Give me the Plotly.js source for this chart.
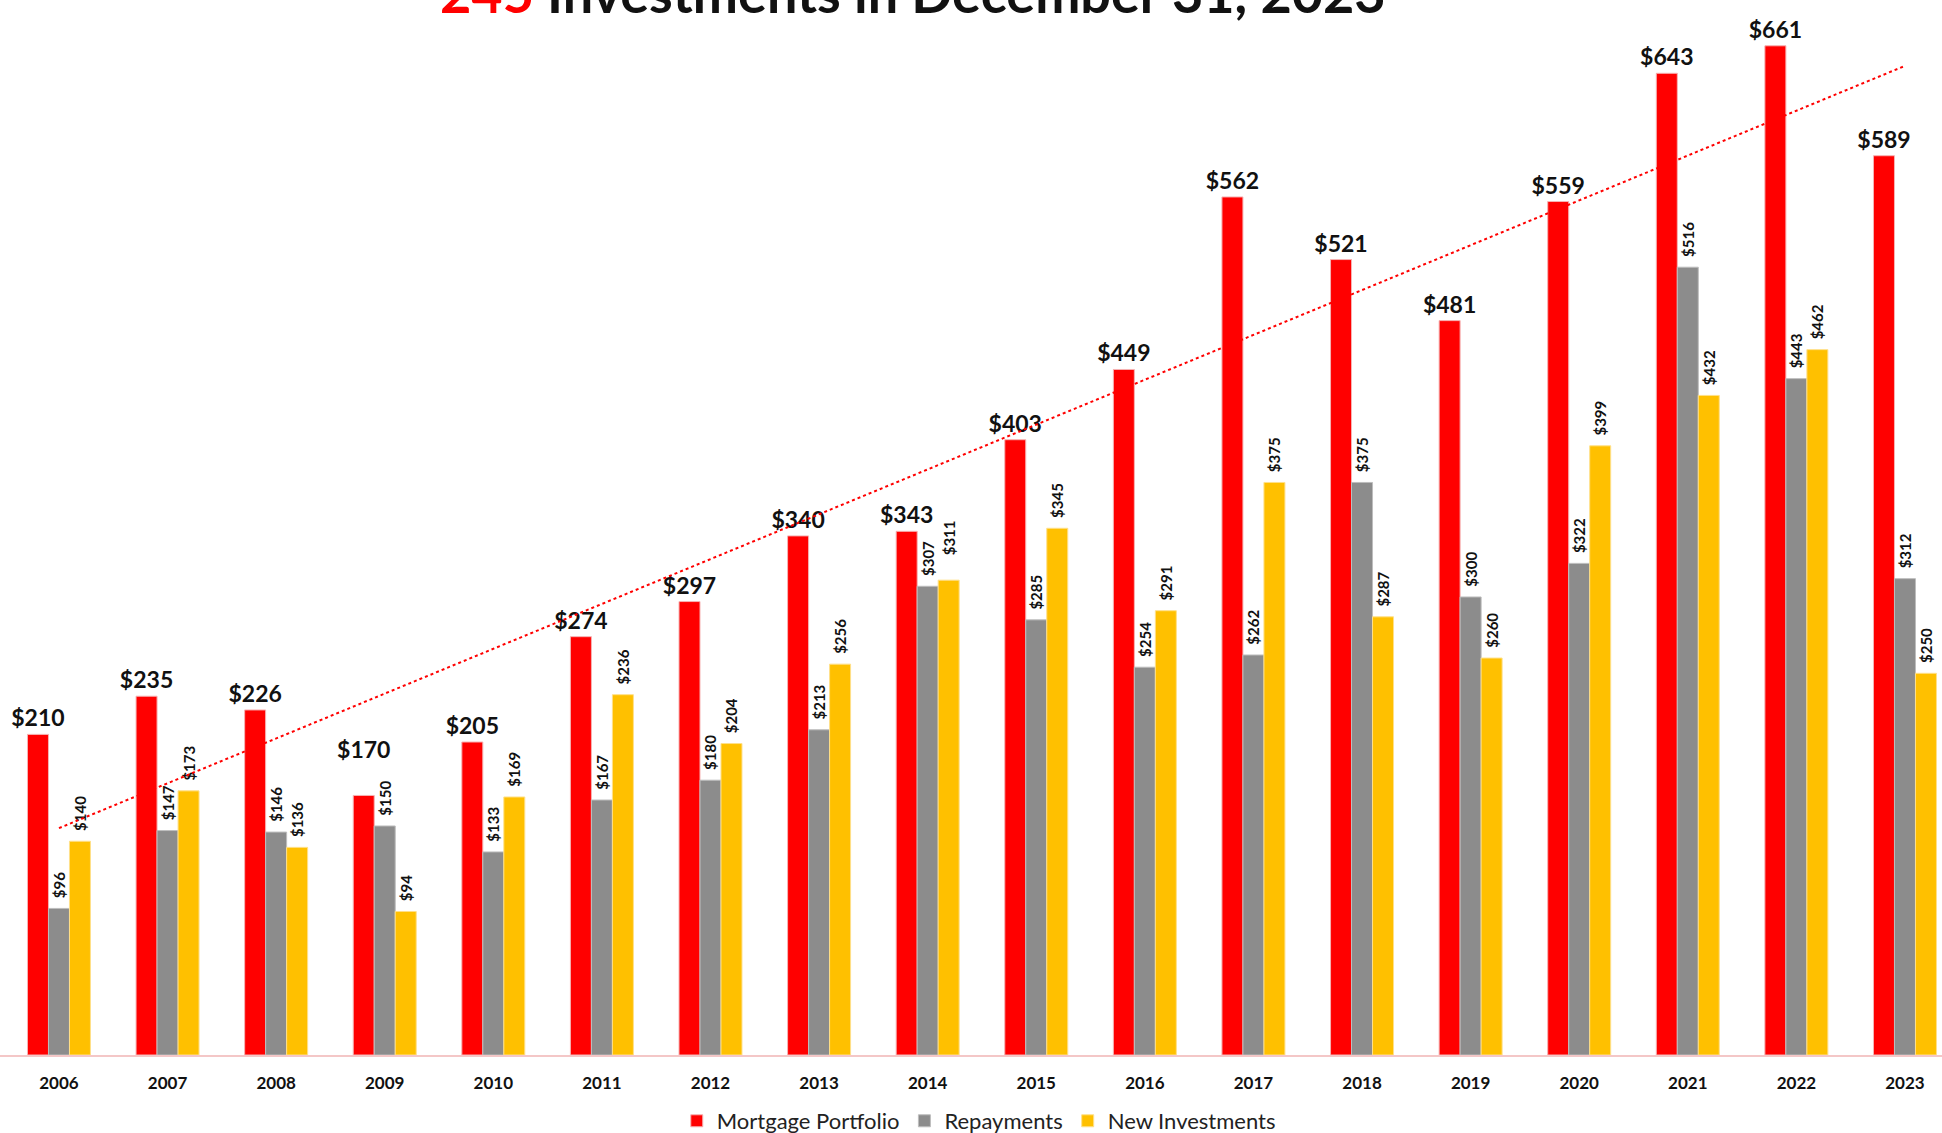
<!DOCTYPE html>
<html>
<head>
<meta charset="utf-8">
<script src="https://cdn.plot.ly/plotly-3.0.1.min.js"></script>
<style>
  html, body { margin: 0; padding: 0; background: #fff; }
  #plotArea { width: 1942px; height: 1133px; }
</style>
</head>
<body>
<div id="plotArea"></div>
<script>
// data ($ millions)
var years = ['2006','2007','2008','2009','2010','2011','2012','2013','2014',
             '2015','2016','2017','2018','2019','2020','2021','2022','2023'];
var mortgage = [210,235,226,170,205,274,297,340,343,403,449,562,521,481,559,643,661,589];
var repayments = [96,147,146,150,133,167,180,213,307,285,254,262,375,300,322,516,443,312];
var newInvest = [140,173,136,94,169,236,204,256,311,345,291,375,287,260,399,432,462,250];

// linear trend of the mortgage portfolio (like the Excel trendline)
var n = mortgage.length, sx = 0, sy = 0, sxy = 0, sxx = 0;
for (var i = 0; i < n; i++) {
    sx += i; sy += mortgage[i]; sxy += i * mortgage[i]; sxx += i * i;
}
var slope = (n * sxy - sx * sy) / (n * sxx - sx * sx);
var icpt = (sy - slope * sx) / n;
var trend = mortgage.map(function (v, i) { return icpt + slope * i; });

// labels that were nudged up by hand in the original
var mortTpl = years.map(function (y) { return y === '2009' ? '$%{y}<br> ' : '$%{y}'; });
var pad = '\u00a0\u00a0';
var newTpl = years.map(function (y) { return (y === '2014' ? pad + pad + pad : pad) + '$%{y}'; });

var smallLbl = {family: 'Lato, sans-serif', size: 15, color: '#111', weight: 'bold'};

var traceMort = {
    x: years, y: mortgage, type: 'bar', name: 'Mortgage Portfolio',
    marker: {color: '#FF0000', line: {color: '#f6b3b3', width: 1}},
    texttemplate: mortTpl, textposition: 'outside', textangle: 0,
    outsidetextfont: {family: 'Lato, sans-serif', size: 23, color: '#111', weight: 'bold'},
    constraintext: 'none', cliponaxis: false, hoverinfo: 'none'
};
var traceRep = {
    x: years, y: repayments, type: 'bar', name: 'Repayments',
    marker: {color: '#8C8C8C', line: {color: '#bdbdbd', width: 1}},
    texttemplate: pad + '$%{y}', textposition: 'outside', textangle: -90,
    outsidetextfont: smallLbl, constraintext: 'none', cliponaxis: false, hoverinfo: 'none'
};
var traceNew = {
    x: years, y: newInvest, type: 'bar', name: 'New Investments',
    marker: {color: '#FFC000', line: {color: '#ffe08a', width: 1}},
    texttemplate: newTpl, textposition: 'outside', textangle: -90,
    outsidetextfont: smallLbl, constraintext: 'none', cliponaxis: false, hoverinfo: 'none'
};
var traceTrend = {
    x: years, y: trend, type: 'scatter', mode: 'lines', showlegend: false,
    line: {color: '#FF0000', width: 2, dash: 'dot'}, hoverinfo: 'none'
};

var layout = {
    width: 1942, height: 1133,
    margin: {l: 0, r: 0, t: 0, b: 78},
    paper_bgcolor: '#fff', plot_bgcolor: '#fff',
    barmode: 'group', bargap: 0.42, bargroupgap: 0,
    font: {family: 'Lato, sans-serif', color: '#111'},
    xaxis: {
        type: 'category', range: [-0.543, 17.341],
        showline: true, linecolor: '#f4c7c7', linewidth: 2,
        ticks: '', showgrid: false, zeroline: false, ticklabelstandoff: 12,
        tickfont: {family: 'Lato, sans-serif', size: 17, color: '#111', weight: 'bold'}
    },
    yaxis: {range: [0, 691], visible: false, showgrid: false, zeroline: false},
    legend: {
        orientation: 'h', x: 0.504, xanchor: 'center', y: 0.0106, yref: 'container', yanchor: 'middle',
        font: {family: 'Lato, sans-serif', size: 22, color: '#222'},
        itemwidth: 30, traceorder: 'normal'
    },
    annotations: [{
        xref: 'paper', yref: 'paper', x: 0.470, y: 1 - 27 / 1055,
        xanchor: 'center', yanchor: 'bottom', showarrow: false,
        text: "<span style='color:#FF0000'>245</span> Investments in December 31, 2023",
        font: {family: 'Lato, sans-serif', size: 54, color: '#111', weight: 'bold'}
    }],
    showlegend: true
};

Plotly.newPlot('plotArea', [traceMort, traceRep, traceNew, traceTrend], layout, {displayModeBar: false});
</script>
</body>
</html>
